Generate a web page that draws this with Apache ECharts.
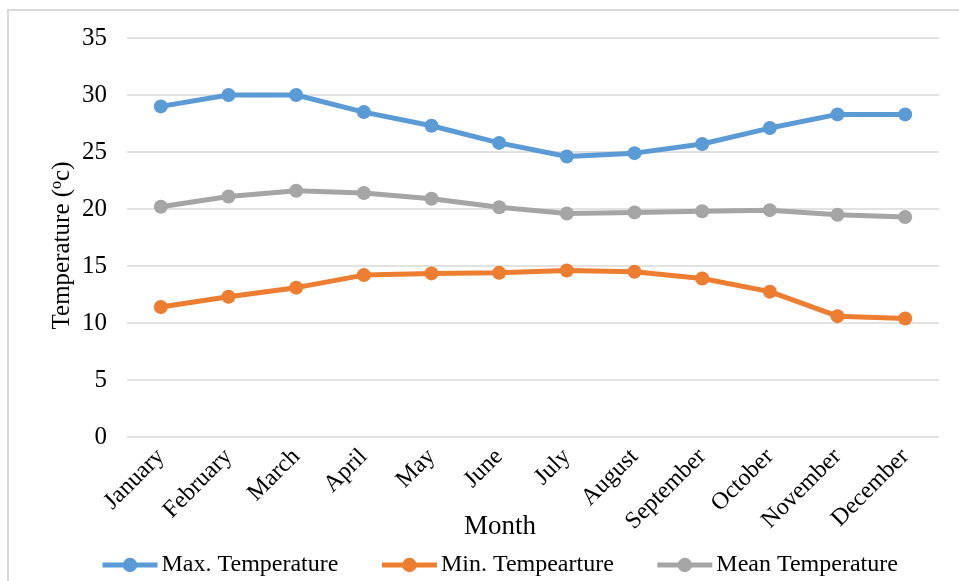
<!DOCTYPE html>
<html>
<head>
<meta charset="utf-8">
<script src="https://cdn.jsdelivr.net/npm/echarts@6/dist/echarts.min.js"></script>
<style>
  html, body { margin: 0; padding: 0; background: #ffffff; }
  #chart { width: 959px; height: 581px; }
</style>
</head>
<body>
<div id="chart"></div>
<script>
// Monthly temperature climatology (°C)
const months = ['January', 'February', 'March', 'April', 'May', 'June',
                'July', 'August', 'September', 'October', 'November', 'December'];
const maxTemp  = [29.0, 30.0, 30.0, 28.5, 27.3, 25.8, 24.6, 24.9, 25.7, 27.1, 28.3, 28.3];
const minTemp  = [11.4, 12.3, 13.1, 14.2, 14.35, 14.4, 14.6, 14.5, 13.9, 12.75, 10.6, 10.4];
const meanTemp = [20.2, 21.1, 21.6, 21.4, 20.9, 20.15, 19.6, 19.7, 19.8, 19.9, 19.5, 19.3];
const seriesNames = ['Max. Temperature', 'Min. Tempearture', 'Mean Temperature'];
const yTicks = { min: 0, max: 35, interval: 5 };

const FONT = "'Liberation Serif', 'Times New Roman', serif";
const colors = ['#5B9BD5', '#ED7D31', '#A5A5A5'];

const chart = echarts.init(document.getElementById('chart'), null, { renderer: 'canvas' });

function lineSeries(name, data, color) {
  return {
    name: name,
    type: 'line',
    data: data,
    symbol: 'circle',
    symbolSize: 14,
    itemStyle: { color: color },
    lineStyle: { color: color, width: 5 },
    emphasis: { disabled: true },
    animation: false
  };
}

chart.setOption({
  backgroundColor: '#ffffff',
  textStyle: { fontFamily: FONT, color: '#000000' },
  graphic: [{
    type: 'rect',
    shape: { x: 8, y: 10, width: 990, height: 620 },
    style: { fill: 'none', stroke: '#d9d9d9', lineWidth: 2 },
    silent: true
  }],
  grid: { left: 127, right: 20, top: 38, bottom: 144 },
  legend: {
    left: 100,
    top: 553,
    padding: 0,
    itemWidth: 55,
    itemHeight: 18,
    itemGap: 41,
    data: seriesNames,
    lineStyle: { width: 5 },
    textStyle: { fontFamily: FONT, fontSize: 24, color: '#000000', padding: [0, 0, 0, -1] }
  },
  xAxis: {
    type: 'category',
    data: months,
    boundaryGap: true,
    name: 'Month',
    nameLocation: 'middle',
    nameGap: 76,
    nameMoveOverlap: false,
    nameTextStyle: { fontFamily: FONT, fontSize: 27, color: '#000000', padding: [0, 66, 0, 0] },
    axisLine: { show: false },
    axisTick: { show: false },
    axisLabel: {
      rotate: 45,
      margin: 16,
      interval: 0,
      fontFamily: FONT,
      fontSize: 24,
      color: '#000000'
    }
  },
  yAxis: {
    type: 'value',
    min: yTicks.min,
    max: yTicks.max,
    interval: yTicks.interval,
    name: 'Temperature ({sup|o}c)',
    nameLocation: 'middle',
    nameGap: 52,
    nameMoveOverlap: false,
    nameRotate: 90,
    nameTextStyle: {
      fontFamily: FONT, fontSize: 25, color: '#000000',
      padding: [0, 16, 0, 0],
      rich: {
        sup: { fontFamily: FONT, fontSize: 16, color: '#000000', verticalAlign: 'top', padding: [0, 0, 10, 0] }
      }
    },
    axisLine: { show: false },
    axisTick: { show: false },
    axisLabel: { fontFamily: FONT, fontSize: 25, color: '#000000', margin: 20 },
    splitLine: { lineStyle: { color: '#d9d9d9', width: 1.5 } }
  },
  series: [
    lineSeries(seriesNames[0], maxTemp, colors[0]),
    lineSeries(seriesNames[1], minTemp, colors[1]),
    lineSeries(seriesNames[2], meanTemp, colors[2])
  ]
});
</script>
</body>
</html>
